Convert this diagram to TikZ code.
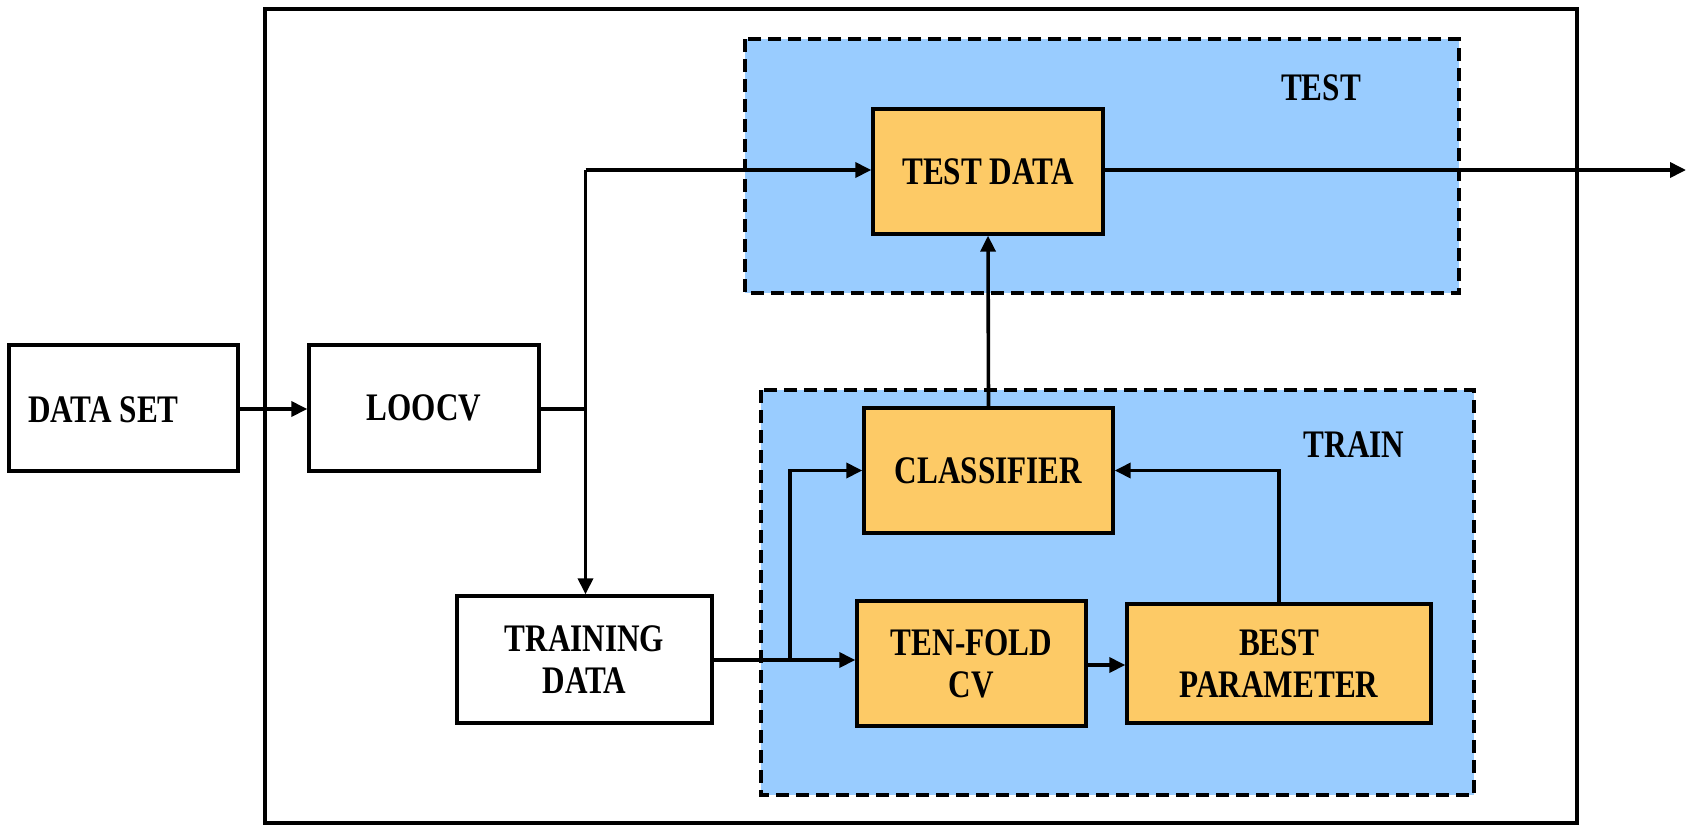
\documentclass[tikz,border=0pt]{standalone}
\usepackage{fontspec}
\setmainfont{Liberation Serif}[FakeStretch=0.8]
\usetikzlibrary{arrows.meta,positioning,calc}
\definecolor{panelblue}{HTML}{99CCFF}
\definecolor{boxorange}{HTML}{FDCA66}
\tikzset{
  box/.style={draw=black, line width=3.4pt, inner sep=0pt, align=center},
  whitebox/.style={box, fill=white},
  orangebox/.style={box, fill=boxorange},
  panel/.style={draw=black, fill=panelblue, line width=3.2pt, dash pattern=on 13pt off 7pt},
  conn/.style={line width=3.6pt, -{Triangle[length=16pt,width=15pt]}},
  plainline/.style={line width=3.6pt},
  lbl/.style={inner sep=0pt, align=center},
}
\begin{document}
\begin{tikzpicture}[x=1pt,y=-1pt,font=\fontsize{39}{42}\selectfont\bfseries]
\useasboundingbox (0,0) rectangle (1691,825);
% outer frame
\draw[line width=3.2pt] (265,9) rectangle (1577,823);
% panels
\draw[panel] (745,39) rectangle (1459,293);
\draw[panel] (761,390) rectangle (1474,795);
\node[lbl] (testlbl) at (1321,88) {TEST};
\node[lbl] (trainlbl) at (1354,445) {TRAIN};
% boxes
\node[whitebox, minimum width=229pt, minimum height=126pt] (ds) at (123.5,408) {};
\node[lbl] (dstext) at (103.5,410) {DATA SET};
\node[whitebox, minimum width=230pt, minimum height=126pt] (loo) at (424,408) {LOOCV};
\node[orangebox, minimum width=230pt, minimum height=125pt] (td) at (988,171.5) {TEST DATA};
\node[orangebox, minimum width=249pt, minimum height=125pt] (cl) at (988.5,470.5) {CLASSIFIER};
\node[whitebox, minimum width=255pt, minimum height=127pt] (trd) at (584.5,659.5) {TRAINING\\DATA};
\node[orangebox, minimum width=229pt, minimum height=125pt] (tf) at (971.5,663.5) {TEN-FOLD\\CV};
\node[orangebox, minimum width=304pt, minimum height=119pt] (bp) at (1279,663.5) {BEST\\PARAMETER};
% junction coordinates
\coordinate (j1) at (585.5,409);
\coordinate (j1top) at (585.5,170);
\coordinate (j2) at (790,660);
\coordinate (out) at (1686,170);
% connectors
\draw[conn] (ds.east |- 0,409) -- (loo.west |- 0,409);
\draw[plainline] (loo.east |- j1) -- (j1);
\draw[conn] (j1top) -- (trd.north -| j1top);
\draw[conn] (j1top) -- (td.west |- j1top);
\draw[conn] (td.east |- out) -- (out);
\draw[conn] (cl.north) -- (td.south);
\draw[conn] (trd.east |- j2) -- (tf.west |- j2);
\draw[conn] (j2) -- (j2 |- cl.west) -- (cl.west);
\draw[conn] (tf.east |- 0,665) -- (bp.west |- 0,665);
\draw[conn] (bp.north) -- (bp.north |- cl.east) -- (cl.east);
\end{tikzpicture}
\end{document}
